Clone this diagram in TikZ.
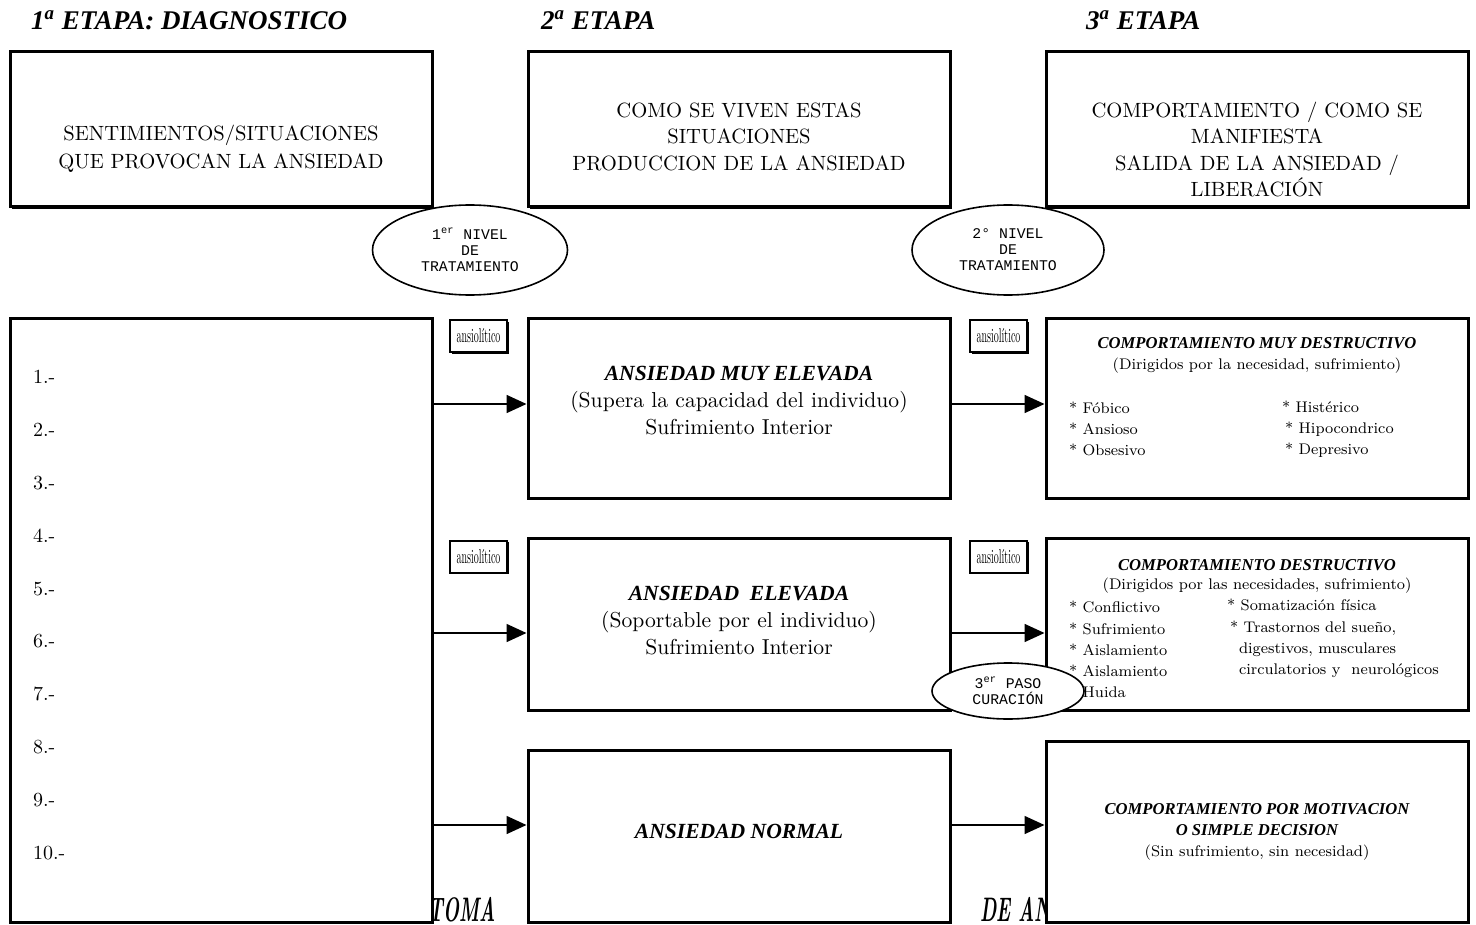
\documentclass[tikz,border=0pt]{standalone}
\usepackage{fontspec}
\newfontfamily\courfont{Liberation Mono}
\newfontfamily\bifont{Liberation Serif}
\usetikzlibrary{shapes.geometric,shadows,arrows.meta}
\newcommand{\bi}[1]{{\bifont\bfseries\itshape #1}}
\begin{document}
\begin{tikzpicture}[x=0.5pt,y=-0.5pt,
  bx/.style={draw,line width=1.5pt,fill=white,inner sep=0pt,minimum width=211pt,
    drop shadow={shadow xshift=1pt,shadow yshift=-1pt,fill=black,opacity=1}},
  smallbx/.style={draw,line width=1pt,fill=white,inner sep=0pt,minimum width=28.5pt,minimum height=16pt,
    drop shadow={shadow xshift=0.8pt,shadow yshift=-0.8pt,fill=black,opacity=1},
    font=\fontsize{10}{10}\selectfont},
  ell/.style={draw,ellipse,line width=0.8pt,fill=white,inner sep=0pt,align=center,
    font=\courfont\fontsize{7.4}{8}\selectfont},
  arr/.style={line width=0.8pt,-{Triangle[length=10pt,width=9pt]}},
  hdr/.style={anchor=west,font=\bifont\fontsize{13.5}{15}\selectfont\bfseries\itshape},
  toptxt/.style={align=center,font=\fontsize{10.3}{13.2}\selectfont},
  midtxt/.style={align=center,font=\fontsize{10.8}{13.3}\selectfont},
  lst/.style={anchor=west,font=\fontsize{10}{12}\selectfont},
  rttl/.style={align=center,font=\bifont\fontsize{8.3}{10.5}\selectfont\bfseries\itshape},
  rtxt/.style={align=center,font=\fontsize{7.7}{10.5}\selectfont},
  ritem/.style={anchor=west,align=left,font=\fontsize{7.7}{10.6}\selectfont},
  btm/.style={anchor=south west,inner sep=0pt}
]
\useasboundingbox (0,0) rectangle (1476,925);

% headers
\node[hdr] (h1) at (24,20) {1\textsuperscript{a} ETAPA: DIAGNOSTICO};
\node[hdr] (h2) at (534,20) {2\textsuperscript{a} ETAPA};
\node[hdr] (h3) at (1079,20) {3\textsuperscript{a} ETAPA};

% partially hidden bottom texts
\node[btm] (bt1) at (428,922) {\scalebox{0.55}[1]{\fontsize{17}{17}\selectfont\bfseries\itshape TOMA}};
\node[btm] (bt2) at (980,922) {\scalebox{0.55}[1]{\fontsize{17}{17}\selectfont\bfseries\itshape DE AN}};

% top boxes
\node[bx,minimum height=77.5pt] (T1) at (221,129.5) {};
\node[bx,minimum height=77.5pt] (T2) at (739,129.5) {};
\node[bx,minimum height=77.5pt] (T3) at (1257,129.5) {};
\node[toptxt,font=\fontsize{10.3}{14}\selectfont] (t1) at (221,149) {SENTIMIENTOS/SITUACIONES\\QUE PROVOCAN LA ANSIEDAD};
\node[toptxt] (t2) at (739,136.5) {COMO SE VIVEN ESTAS\\SITUACIONES\\PRODUCCION DE LA ANSIEDAD};
\node[toptxt] (t3) at (1257,149.5) {COMPORTAMIENTO / COMO SE\\MANIFIESTA\\SALIDA DE LA ANSIEDAD /\\LIBERACIÓN};

% left big box
\node[bx,minimum height=302pt] (L) at (221,620) {};
\foreach \i/\t in {1/1.-,2/2.-,3/3.-,4/4.-,5/5.-,6/6.-,7/7.-,8/8.-,9/9.-,10/10.-}{
  \node[lst] (l\i) at (26,{377+52.9*(\i-1)}) {\t};
}

% middle boxes
\node[bx,minimum height=90pt] (B1) at (739,408) {};
\node[bx,minimum height=86pt] (B2) at (739,624) {};
\node[bx,minimum height=86pt] (B3) at (739,836) {};
\node[midtxt] (b1) at (739,400.5) {\bi{ANSIEDAD MUY ELEVADA}\\(Supera la capacidad del individuo)\\Sufrimiento Interior};
\node[midtxt,font=\fontsize{10.8}{13.5}\selectfont] (b2) at (739,621) {\bi{ANSIEDAD\ \ ELEVADA}\\(Soportable por el individuo)\\Sufrimiento Interior};
\node[midtxt] (b3) at (739,831) {\bi{ANSIEDAD NORMAL}};

% right boxes
\node[bx,minimum height=90pt] (R1) at (1257,408) {};
\node[bx,minimum height=86pt] (R2) at (1257,624) {};
\node[bx,minimum height=90.5pt] (R3) at (1257,831.5) {};

\node[rttl] (r1t) at (1257,343) {COMPORTAMIENTO MUY DESTRUCTIVO};
\node[rtxt] (r1s) at (1257,366) {(Dirigidos por la necesidad, sufrimiento)};
\node[ritem] (r1a) at (1062,429) {* Fóbico\\* Ansioso\\* Obsesivo};
\node[ritem] (r1b) at (1275,429) {* Histérico\\\hspace{1.5pt}* Hipocondrico\\\hspace{1.5pt}* Depresivo};

\node[rttl] (r2t) at (1257,565) {COMPORTAMIENTO DESTRUCTIVO};
\node[rtxt] (r2s) at (1257,586) {(Dirigidos por las necesidades, sufrimiento)};
\node[ritem] (r2a) at (1062,649.5) {* Conflictivo\\* Sufrimiento\\* Aislamiento\\* Aislamiento\\* Huida};
\node[ritem] (r2b) at (1220,638.5) {* Somatización física\\\hspace{1.5pt}* Trastornos del sueño,\\\hspace{6pt}digestivos, musculares\\\hspace{6pt}circulatorios y\ \ neurológicos};

\node[rttl] (r3t) at (1257,819.5) {COMPORTAMIENTO POR MOTIVACION\\O SIMPLE DECISION};
\node[rtxt] (r3s) at (1257,853) {(Sin sufrimiento, sin necesidad)};

% arrows
\coordinate (y1) at (0,404);
\coordinate (y2) at (0,633);
\coordinate (y3) at (0,825);
\draw[arr] (L.east |- y1) -- (B1.west |- y1);
\draw[arr] (L.east |- y2) -- (B2.west |- y2);
\draw[arr] (L.east |- y3) -- (B3.west |- y3);
\draw[arr] (B1.east |- y1) -- (R1.west |- y1);
\draw[arr] (B2.east |- y2) -- (R2.west |- y2);
\draw[arr] (B3.east |- y3) -- (R3.west |- y3);

% ansiolitico boxes
\node[smallbx] (a1) at (478.5,336) {\scalebox{0.5}[1]{ansiolítico}};
\node[smallbx] (a2) at (998.5,336) {\scalebox{0.5}[1]{ansiolítico}};
\node[smallbx] (a3) at (478.5,556.5) {\scalebox{0.5}[1]{ansiolítico}};
\node[smallbx] (a4) at (998.5,556.5) {\scalebox{0.5}[1]{ansiolítico}};

% ellipses
\node[ell,minimum width=97.5pt,minimum height=45pt] (e1) at (470,250) {1\textsuperscript{er} NIVEL\\DE\\TRATAMIENTO};
\node[ell,minimum width=96pt,minimum height=45pt] (e2) at (1008,250) {2° NIVEL\\DE\\TRATAMIENTO};
\node[ell,minimum width=76pt,minimum height=28pt] (e3) at (1008,691) {3\textsuperscript{er} PASO\\CURACIÓN};
\end{tikzpicture}
\end{document}
